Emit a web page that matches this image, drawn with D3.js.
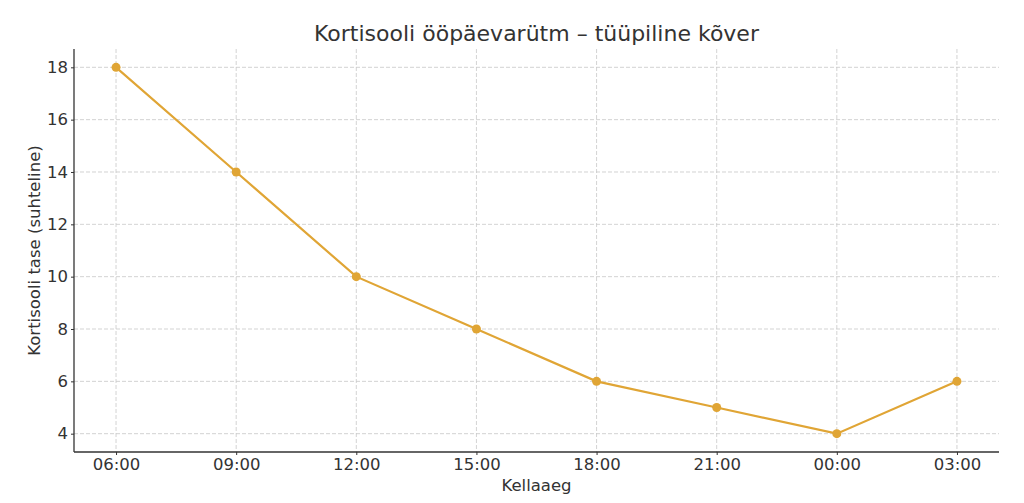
<!DOCTYPE html>
<html>
<head>
<meta charset="utf-8">
<script src="https://cdn.jsdelivr.net/npm/d3@7"></script>
<style>
  body { margin: 0; background: #fff; }
  text { font-family: "DejaVu Sans", sans-serif; fill: #333; }
</style>
</head>
<body>
<div id="chart"></div>
<script>
const times = ['06:00', '09:00', '12:00', '15:00', '18:00', '21:00', '00:00', '03:00'];
const cortisol = [18, 14, 10, 8, 6, 5, 4, 6];
const yTicks = [4, 6, 8, 10, 12, 14, 16, 18];

const width = 1024;
const height = 503;
const margin = {top: 49, right: 25, bottom: 51, left: 74};
const innerW = width - margin.left - margin.right;
const innerH = height - margin.top - margin.bottom;
const lineColor = '#e0a535';
const tickFont = 16.5;

const svg = d3.select('#chart').append('svg')
    .attr('width', width)
    .attr('height', height);

const plot = svg.append('g')
    .attr('transform', `translate(${margin.left}, ${margin.top})`);

// matplotlib-style 5% padding on both axes
const xPad = (times.length - 1) * 0.05;
const x = d3.scaleLinear()
    .domain([-xPad, times.length - 1 + xPad])
    .range([0, innerW]);

const yMin = d3.min(cortisol);
const yMax = d3.max(cortisol);
const yPad = (yMax - yMin) * 0.05;
const y = d3.scaleLinear()
    .domain([yMin - yPad, yMax + yPad])
    .range([innerH, 0]);

// grid
plot.append('g')
    .selectAll('line')
    .data(times)
    .join('line')
    .attr('x1', (d, i) => x(i))
    .attr('x2', (d, i) => x(i))
    .attr('y1', 0)
    .attr('y2', innerH)
    .attr('stroke', '#c8c8c8')
    .attr('stroke-width', 0.8)
    .attr('stroke-dasharray', '4,2');

plot.append('g')
    .selectAll('line')
    .data(yTicks)
    .join('line')
    .attr('x1', 0)
    .attr('x2', innerW)
    .attr('y1', d => y(d))
    .attr('y2', d => y(d))
    .attr('stroke', '#c8c8c8')
    .attr('stroke-width', 0.8)
    .attr('stroke-dasharray', '4,2');

// axes
const xAxis = d3.axisBottom(x)
    .tickValues(d3.range(times.length))
    .tickFormat(i => times[i])
    .tickSize(3)
    .tickPadding(3);

const yAxis = d3.axisLeft(y)
    .tickValues(yTicks)
    .tickSize(3)
    .tickPadding(3);

const gx = plot.append('g')
    .attr('transform', `translate(0, ${innerH})`)
    .call(xAxis);
const gy = plot.append('g').call(yAxis);

[gx, gy].forEach((g) => {
    g.select('.domain').attr('stroke', '#333').attr('stroke-width', 1.3)
        .attr('d', g === gx ? `M0,0H${innerW}` : `M0,${innerH}V0`);
    g.selectAll('.tick line').attr('stroke', '#333').attr('stroke-width', 1);
    g.selectAll('.tick text')
        .attr('font-size', tickFont)
        .attr('fill', '#333')
        .style('font-family', '"DejaVu Sans", sans-serif');
});

// line + markers
const line = d3.line()
    .x((d, i) => x(i))
    .y(d => y(d));

plot.append('path')
    .datum(cortisol)
    .attr('d', line)
    .attr('fill', 'none')
    .attr('stroke', lineColor)
    .attr('stroke-width', 2.2);

plot.append('g')
    .selectAll('circle')
    .data(cortisol)
    .join('circle')
    .attr('cx', (d, i) => x(i))
    .attr('cy', d => y(d))
    .attr('r', 4.5)
    .attr('fill', lineColor);

// labels
svg.append('text')
    .attr('x', margin.left + innerW / 2)
    .attr('y', 41)
    .attr('text-anchor', 'middle')
    .attr('font-size', 22)
    .text('Kortisooli ööpäevarütm – tüüpiline kõver');

svg.append('text')
    .attr('x', margin.left + innerW / 2)
    .attr('y', 491)
    .attr('text-anchor', 'middle')
    .attr('font-size', tickFont)
    .text('Kellaaeg');

svg.append('text')
    .attr('transform', `translate(40, ${margin.top + innerH / 2}) rotate(-90)`)
    .attr('text-anchor', 'middle')
    .attr('font-size', tickFont)
    .text('Kortisooli tase (suhteline)');
</script>
</body>
</html>
